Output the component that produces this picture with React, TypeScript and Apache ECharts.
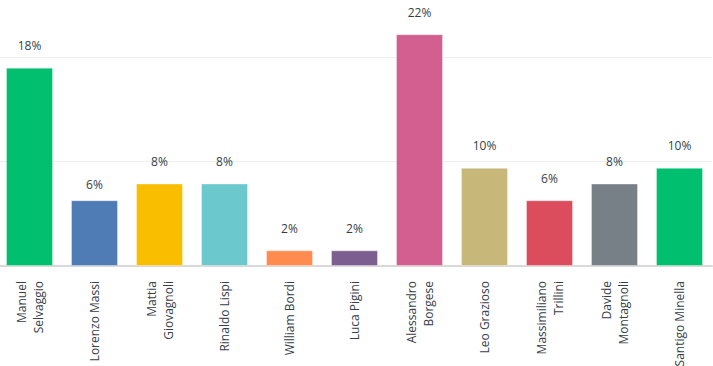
import React, { useEffect, useRef } from "react";
import * as echarts from "echarts";

const categories = [
  "Manuel\nSelvaggio",
  "Lorenzo Massi",
  "Mattia\nGiovagnoli",
  "Rinaldo Lispi",
  "William Bordi",
  "Luca Pigini",
  "Alessandro\nBorgese",
  "Leo Grazioso",
  "Massimiliano\nTrillini",
  "Davide\nMontagnoli",
  "Santigo Minella",
];
const values = [19.0, 6.3, 7.9, 7.9, 1.5, 1.5, 22.2, 9.4, 6.3, 7.9, 9.4];
const valueLabels = ["18%", "6%", "8%", "8%", "2%", "2%", "22%", "10%", "6%", "8%", "10%"];
const colors = [
  "#00BF6F",
  "#507CB6",
  "#F9BE00",
  "#6BC8CD",
  "#FF8B4F",
  "#7D5E90",
  "#D25F90",
  "#C7B879",
  "#DB4D5C",
  "#768086",
  "#00BF6F",
];

export default function App() {
  const ref = useRef<HTMLDivElement>(null);
  useEffect(() => {
    if (!ref.current) return;
    const chart = echarts.init(ref.current, null, { renderer: "svg" });
    chart.setOption({
      animation: false,
      grid: { left: 0, right: 1, top: 5, bottom: 100, containLabel: false, outerBoundsMode: "none" },
      xAxis: {
        type: "category",
        data: categories,
        axisLine: { show: true, lineStyle: { color: "#d9d9d9", width: 2 } },
        axisTick: { show: false },
        axisLabel: {
          rotate: 90,
          interval: 0,
          margin: 15,
          color: "#333e48",
          fontFamily: "Open Sans",
          fontSize: 12,
          lineHeight: 17,
        },
      },
      yAxis: {
        type: "value",
        min: 0,
        max: 25,
        interval: 10,
        axisLabel: { show: false },
        axisLine: { show: false },
        axisTick: { show: false },
        splitLine: { show: true, showMinLine: false, showMaxLine: false, lineStyle: { color: "#efefef", width: 1 } },
      },
      series: [
        {
          type: "bar",
          barWidth: 47,
          data: values.map((v, i) => ({
            value: v,
            itemStyle: { color: colors[i], borderColor: "rgba(255,255,255,0.35)", borderWidth: 1 },
            label: i === 1 ? { distance: 10 } : undefined,
          })),
          label: {
            show: true,
            position: "top",
            distance: 16,
            color: "#333e48",
            fontFamily: "Open Sans",
            fontSize: 12,
            formatter: (p: any) => valueLabels[p.dataIndex],
          },
        },
      ],
    });
    return () => chart.dispose();
  }, []);
  return <div ref={ref} style={{ width: 716, height: 366, position: "absolute", left: -3, top: 0 }} />;
}
